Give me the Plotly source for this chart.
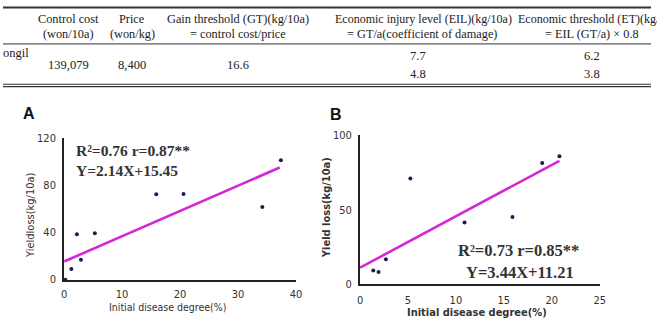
import plotly.graph_objects as go

W, H = 657, 326

# ---------------- data ----------------
tbl_header_1 = ["Control cost", "Price", "Gain threshold (GT)(kg/10a)",
                "Economic injury level (EIL)(kg/10a)", "Economic threshold (ET)(kg/10a)"]
tbl_header_2 = ["(won/10a)", "(won/kg)", "= control cost/price",
                "= GT/a(coefficient of damage)", "= EIL (GT/a) × 0.8"]
tbl_row_label = "ongil"
tbl_control_cost = "139,079"
tbl_price = "8,400"
tbl_gain_threshold = "16.6"
tbl_eil = ["7.7", "4.8"]
tbl_et = ["6.2", "3.8"]

a_x = [0.2, 1.25, 2.2, 2.9, 5.3, 15.9, 20.6, 34.2, 37.4]
a_y = [0.0, 9.0, 38.6, 16.9, 39.4, 72.6, 72.9, 61.8, 101.5]
a_line_x = [0, 37.2]
a_line_y = [15.45, 95.3]
a_stats = ["R²=0.76 r=0.87**", "Y=2.14X+15.45"]

b_x = [0.5, 1.38, 1.93, 2.7, 5.25, 10.9, 15.9, 19.0, 20.8]
b_y = [-0.5, 9.4, 8.3, 16.9, 70.9, 41.5, 45.2, 81.3, 85.8]
b_line_x = [0, 20.8]
b_line_y = [11.21, 82.8]
b_stats = ["R²=0.73 r=0.85**", "Y=3.44X+11.21"]

a_yticks = [0, 40, 80, 120]
a_xticks = [0, 10, 20, 30, 40]
b_yticks = [0, 50, 100]
b_xticks = [0, 5, 10, 15, 20, 25]


def px(x):
    return x / W


def py(y):
    return 1 - y / H


SERIF = "Liberation Serif, Times New Roman, serif"
NARROW = "DejaVu Sans Condensed, Liberation Sans Narrow, Liberation Sans, Arial, sans-serif"
LINE_C = "#d526d5"
DOT_C = "#1c1c50"

fig = go.Figure()

fig.add_trace(go.Scatter(x=a_line_x, y=a_line_y, mode="lines", xaxis="x", yaxis="y",
                         line=dict(color=LINE_C, width=2.6), showlegend=False, cliponaxis=False))
fig.add_trace(go.Scatter(x=a_x, y=a_y, mode="markers", xaxis="x", yaxis="y",
                         marker=dict(color=DOT_C, size=4), showlegend=False, cliponaxis=False))
fig.add_trace(go.Scatter(x=b_line_x, y=b_line_y, mode="lines", xaxis="x2", yaxis="y2",
                         line=dict(color=LINE_C, width=2.6), showlegend=False, cliponaxis=False))
fig.add_trace(go.Scatter(x=b_x, y=b_y, mode="markers", xaxis="x2", yaxis="y2",
                         marker=dict(color=DOT_C, size=4), showlegend=False, cliponaxis=False))

axis_common = dict(showgrid=False, zeroline=False, showline=True, linecolor="#222",
                   linewidth=2, ticks="outside", tickcolor="rgba(0,0,0,0)",
                   tickfont=dict(family=NARROW, size=11, color="#333"), fixedrange=True)

fig.update_layout(
    width=W, height=H, margin=dict(l=0, r=0, t=0, b=0),
    paper_bgcolor="white", plot_bgcolor="white",
    xaxis=dict(domain=[px(62), px(297)], range=[0, 40], tickvals=a_xticks, ticklen=3,
               anchor="y", **axis_common),
    yaxis=dict(domain=[py(285), py(138)], range=[0, 120], tickvals=a_yticks, ticklen=4,
               anchor="x", **axis_common),
    xaxis2=dict(domain=[px(362), px(605)], range=[0, 25], tickvals=b_xticks, ticklen=4,
                anchor="y2", **axis_common),
    yaxis2=dict(domain=[py(290), py(134.5)], range=[0, 100], tickvals=b_yticks, ticklen=4,
                anchor="x2", **axis_common),
)

ann = []


def text(x, y, t, size=12.3, family=SERIF, color="#222", xanchor="center", angle=0, bold=False):
    if bold:
        t = "<b>" + t + "</b>"
    ann.append(dict(x=px(x), y=py(y), xref="paper", yref="paper", text=t, showarrow=False,
                    xanchor=xanchor, yanchor="middle", textangle=angle,
                    font=dict(family=family, size=size, color=color)))


# ---- table ----
col_c = [66, 131, 238, 425, 597]
head1_c = [66, 131, 238, 426, 605]
head1_size = [12.3, 12.3, 12.3, 12, 12]
for i, c in enumerate(col_c):
    text(head1_c[i], 14, tbl_header_1[i], size=head1_size[i])
    text(c, 29, tbl_header_2[i])
text(28, 49, tbl_row_label, size=12.5, xanchor="right")
text(col_c[0], 61, tbl_control_cost, size=12.5)
text(col_c[1], 61, tbl_price, size=12.5)
text(col_c[2], 61, tbl_gain_threshold, size=12.5)
text(col_c[3] - 4, 52, tbl_eil[0], size=12.5)
text(col_c[3] - 4, 71, tbl_eil[1], size=12.5)
text(col_c[4], 52, tbl_et[0], size=12.5)
text(col_c[4], 71, tbl_et[1], size=12.5)

shapes = []
for yy, w in [(1.5, 2), (39.5, 1), (81.5, 1.2), (84, 1.2)]:
    shapes.append(dict(type="line", xref="paper", yref="paper", x0=0, x1=1,
                       y0=py(yy), y1=py(yy), line=dict(color="#333", width=w)))

# ---- chart labels ----
text(26, 112, "A", size=16, family="Liberation Sans, Arial, sans-serif", color="#111", bold=True)
text(338, 113, "B", size=16, family="Liberation Sans, Arial, sans-serif", color="#111", bold=True)

text(28, 218, "Yieldloss(kg/10a)", size=11, family=NARROW, color="#333", angle=-90)
text(328, 210, "Yield loss(kg/10a)", size=11, family=NARROW, color="#333", angle=-90, bold=True)
text(167, 314, "Initial disease degree(%)", size=10.5, family=NARROW, color="#333")
text(481, 319, "Initial disease degree(%)", size=11, family=NARROW, color="#333", bold=True)

# ---- stats ----
ann.append(dict(x=px(72), y=py(151), xref="paper", yref="paper", text="<b>" + a_stats[0] + "</b>",
                showarrow=False, xanchor="left", yanchor="middle",
                font=dict(family=SERIF, size=15.5, color="#333")))
ann.append(dict(x=px(72), y=py(171), xref="paper", yref="paper", text="<b>" + a_stats[1] + "</b>",
                showarrow=False, xanchor="left", yanchor="middle",
                font=dict(family=SERIF, size=15.5, color="#333")))
ann.append(dict(x=px(523), y=py(255), xref="paper", yref="paper", text="<b>" + b_stats[0] + "</b>",
                showarrow=False, xanchor="center", yanchor="middle",
                font=dict(family=SERIF, size=16.5, color="#333")))
ann.append(dict(x=px(524), y=py(278), xref="paper", yref="paper", text="<b>" + b_stats[1] + "</b>",
                showarrow=False, xanchor="center", yanchor="middle",
                font=dict(family=SERIF, size=16.5, color="#333")))

fig.update_layout(annotations=ann, shapes=shapes)
fig.write_html("out.html")
